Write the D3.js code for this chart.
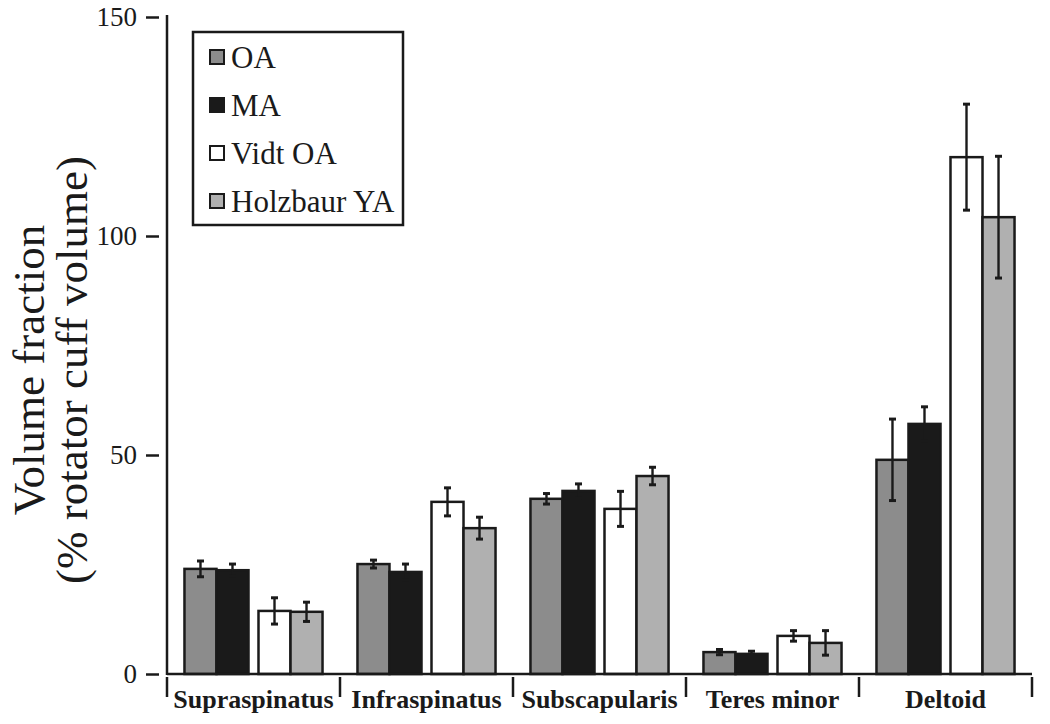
<!DOCTYPE html>
<html>
<head>
<meta charset="utf-8">
<script src="https://cdn.jsdelivr.net/npm/d3@7"></script>
<style>
  body { margin: 0; background: #fff; }
  svg { display: block; }
</style>
</head>
<body>
<div id="chart"></div>
<script>
// muscle groups along the x axis
const muscles = ["Supraspinatus", "Infraspinatus", "Subscapularis", "Teres minor", "Deltoid"];
const seriesNames = ["OA", "MA", "Vidt OA", "Holzbaur YA"];

// volume fraction (% rotator cuff volume), one array per series
const oaValues = [24.0, 25.1, 40.0, 5.0, 48.9];
const maValues = [23.7, 23.3, 41.8, 4.6, 57.1];
const vidtValues = [14.4, 39.3, 37.7, 8.7, 118.0];
const holzValues = [14.2, 33.3, 45.2, 7.1, 104.3];

// +/- error bar half-lengths
const oaErr = [1.8, 0.9, 1.2, 0.6, 9.3];
const maErr = [1.4, 1.8, 1.6, 0.6, 3.9];
const vidtErr = [3.0, 3.2, 4.0, 1.2, 12.1];
const holzErr = [2.2, 2.5, 2.0, 2.8, 13.9];

const yTicks = [0, 50, 100, 150];

const fills = ["#8c8c8c", "#1a1a1a", "#ffffff", "#b0b0b0"];
const ink = "#1a1a1a";
const serif = "'Liberation Serif', 'Times New Roman', serif";

const width = 1050, height = 724;
const margin = { top: 17, right: 18, bottom: 50, left: 167 };

const values = [oaValues, maValues, vidtValues, holzValues];
const errors = [oaErr, maErr, vidtErr, holzErr];
const data = [];
muscles.forEach((m, i) => {
  seriesNames.forEach((s, j) => {
    data.push({ muscle: m, series: j, value: values[j][i], err: errors[j][i] });
  });
});

const svg = d3.select("#chart").append("svg")
  .attr("width", width)
  .attr("height", height);

const x0 = d3.scaleBand()
  .domain(muscles)
  .range([margin.left, width - margin.right]);

// bars come in two pairs inside each muscle group
const xPair = d3.scaleBand()
  .domain([0, 1])
  .range([0, x0.bandwidth()])
  .paddingInner(0.135)
  .paddingOuter(0.236);

const xBar = d3.scaleBand()
  .domain([0, 1])
  .range([0, xPair.bandwidth()]);

const barX = d => x0(d.muscle) + xPair(Math.floor(d.series / 2)) + xBar(d.series % 2);

const y = d3.scaleLinear()
  .domain([0, 150])
  .range([height - margin.bottom, margin.top]);

// bars
svg.append("g")
  .selectAll("rect")
  .data(data)
  .join("rect")
    .attr("x", barX)
    .attr("y", d => y(d.value))
    .attr("width", xBar.bandwidth())
    .attr("height", d => y(0) - y(d.value))
    .attr("fill", d => fills[d.series])
    .attr("stroke", ink)
    .attr("stroke-width", 2.5);

// error bars
const capW = 3.5;
const eb = svg.append("g")
  .attr("stroke", ink)
  .attr("stroke-width", 2.4)
  .selectAll("g")
  .data(data)
  .join("g")
    .attr("transform", d => `translate(${barX(d) + xBar.bandwidth() / 2},0)`);

eb.append("line")
  .attr("y1", d => y(d.value + d.err))
  .attr("y2", d => y(d.value - d.err));
eb.append("line")
  .attr("x1", -capW).attr("x2", capW)
  .attr("y1", d => y(d.value + d.err))
  .attr("y2", d => y(d.value + d.err))
  .attr("stroke-width", 3);
eb.append("line")
  .attr("x1", -capW).attr("x2", capW)
  .attr("y1", d => y(d.value - d.err))
  .attr("y2", d => y(d.value - d.err))
  .attr("stroke-width", 3);

// axis lines
svg.append("line")
  .attr("x1", margin.left).attr("x2", margin.left)
  .attr("y1", y(150) - 2).attr("y2", y(0) + 1)
  .attr("stroke", ink).attr("stroke-width", 2.5);
svg.append("line")
  .attr("x1", margin.left).attr("x2", width - margin.right)
  .attr("y1", y(0)).attr("y2", y(0))
  .attr("stroke", ink).attr("stroke-width", 2.5);

// y ticks (detached from the axis line)
const yAxis = svg.append("g")
  .attr("transform", `translate(${margin.left - 8},0)`)
  .call(d3.axisLeft(y).tickValues(yTicks).tickSize(13).tickPadding(9));
yAxis.select(".domain").remove();
yAxis.selectAll(".tick line").attr("stroke", ink).attr("stroke-width", 2.5);
yAxis.selectAll(".tick text")
  .attr("fill", ink)
  .attr("font-family", serif)
  .attr("font-size", 27);

// category separators + labels
const xAxis = svg.append("g")
  .attr("transform", `translate(0,${y(0) + 3})`);
xAxis.selectAll("line")
  .data(d3.range(muscles.length + 1))
  .join("line")
    .attr("x1", i => i < muscles.length ? x0(muscles[i]) : x0(muscles[i - 1]) + x0.bandwidth())
    .attr("x2", i => i < muscles.length ? x0(muscles[i]) : x0(muscles[i - 1]) + x0.bandwidth())
    .attr("y1", 0).attr("y2", 20)
    .attr("stroke", ink).attr("stroke-width", 2.5);
xAxis.selectAll("text")
  .data(muscles)
  .join("text")
    .attr("x", d => x0(d) + x0.bandwidth() / 2)
    .attr("y", 31)
    .attr("text-anchor", "middle")
    .attr("font-family", serif)
    .attr("font-weight", "bold")
    .attr("font-size", 26)
    .attr("fill", ink)
    .text(d => d);

// y title
const title = svg.append("text")
  .attr("transform", `translate(0,370) rotate(-90)`)
  .attr("text-anchor", "middle")
  .attr("font-family", serif)
  .attr("font-size", 45)
  .attr("fill", ink);
title.append("tspan").attr("x", 0).attr("y", 44).text("Volume fraction");
title.append("tspan").attr("x", 0).attr("y", 87).text("(% rotator cuff volume)");

// legend
const legend = svg.append("g").attr("transform", "translate(193,32)");
legend.append("rect")
  .attr("width", 210).attr("height", 193)
  .attr("fill", "#fff")
  .attr("stroke", ink).attr("stroke-width", 2.5);
const item = legend.selectAll("g")
  .data(seriesNames)
  .join("g")
    .attr("transform", (d, i) => `translate(17,${25 + i * 48})`);
item.append("rect")
  .attr("x", 0).attr("y", -7)
  .attr("width", 14).attr("height", 14)
  .attr("fill", (d, i) => fills[i])
  .attr("stroke", ink).attr("stroke-width", 2);
item.append("text")
  .attr("x", 21).attr("y", 10.5)
  .attr("font-family", serif)
  .attr("font-size", 31)
  .attr("fill", ink)
  .text(d => d);
</script>
</body>
</html>
